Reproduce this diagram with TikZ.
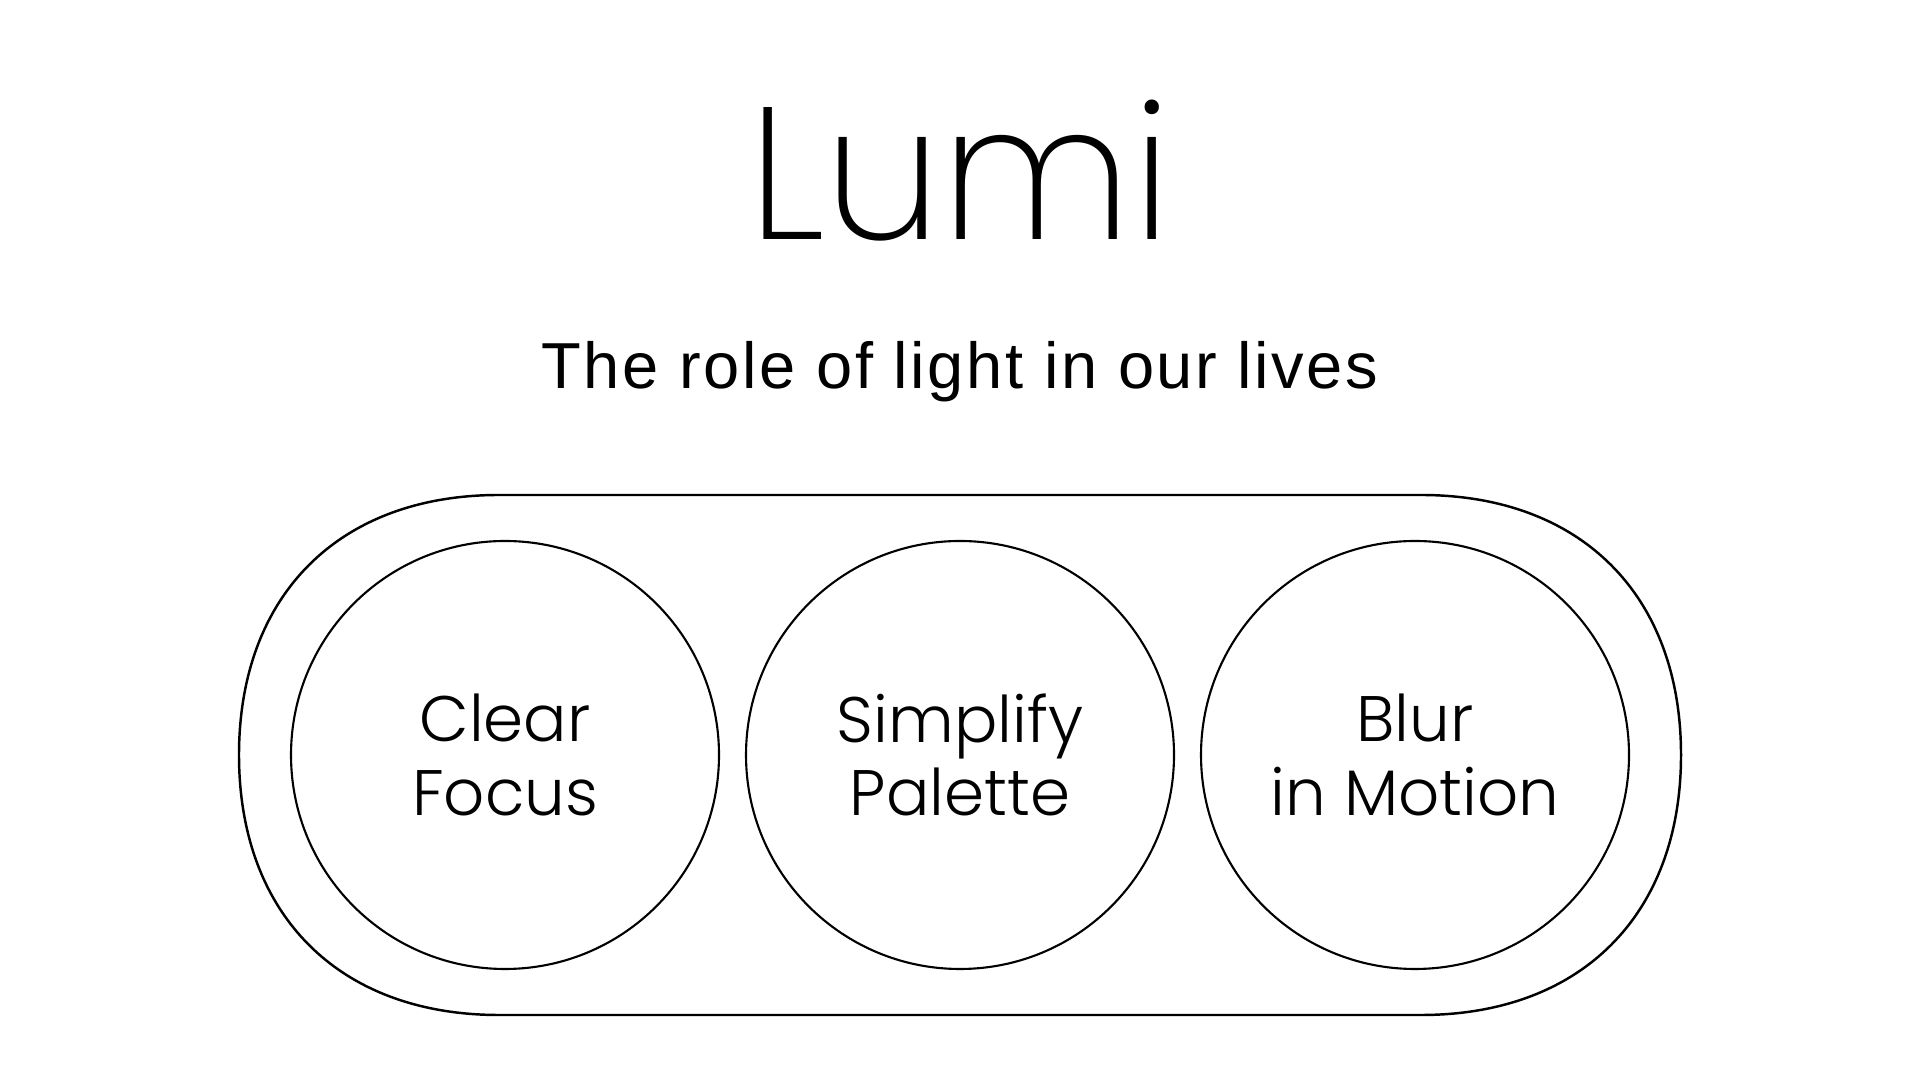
\documentclass[tikz,border=0pt]{standalone}
\usepackage{fontspec}
\setmainfont{Liberation Sans}
\newfontfamily\subfont{Liberation Sans}[LetterSpace=4]
\newfontfamily\thinfont{Poppins ExtraLight}
\newfontfamily\lightfont{Poppins Light}
\usepackage{tikz}

\begin{document}
\begin{tikzpicture}[line width=0.6pt,
  bubble/.style={draw, circle, minimum size=4.28cm, inner sep=0pt, align=center,
    font=\lightfont\fontsize{18.3}{20.8}\selectfont}]
\useasboundingbox (0,0) rectangle (19.2,10.8);

\node[anchor=base, font=\thinfont\fontsize{53.5}{56}\selectfont] (title) at (9.6,8.40) {Lumi};
\node[anchor=base, font=\subfont\fontsize{18.5}{20}\selectfont] (subtitle) at (9.6,6.91) {The role of light in our lives};

% outer frame
\draw[line width=0.7pt] (4.99,5.85) -- (14.21,5.85)
  .. controls (15.81,5.85) and (16.81,4.85) .. (16.81,3.25)
  .. controls (16.81,1.65) and (15.81,0.65) .. (14.21,0.65)
  -- (4.99,0.65)
  .. controls (3.39,0.65) and (2.39,1.65) .. (2.39,3.25)
  .. controls (2.39,4.85) and (3.39,5.85) .. (4.99,5.85) -- cycle;

\node[bubble] (focus) at (5.05,3.25) {Clear\\Focus};
\node[bubble] (palette) at (9.60,3.25) {Simplify\\Palette};
\node[bubble] (motion) at (14.15,3.25) {Blur\\in Motion};
\end{tikzpicture}
\end{document}
